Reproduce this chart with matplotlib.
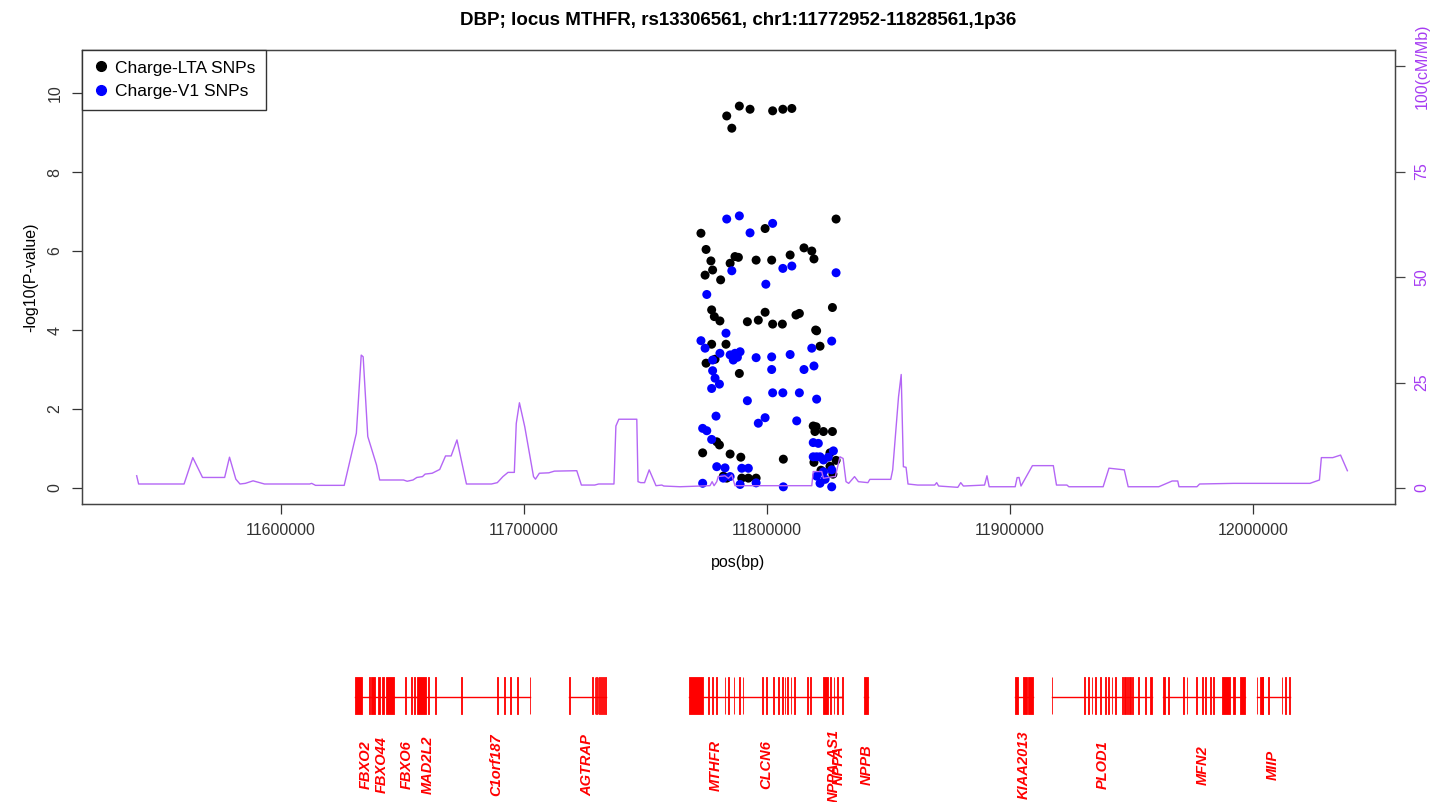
import matplotlib
matplotlib.use("Agg")
import matplotlib.pyplot as plt
from matplotlib.lines import Line2D

plt.rcParams["font.family"] = ["Liberation Sans", "DejaVu Sans"]

TITLE = "DBP; locus MTHFR, rs13306561, chr1:11772952-11828561,1p36"

# Charge-LTA SNPs (black)
LTA_POS = [11783400, 11785500, 11788600, 11793000, 11802300, 11806500, 11810200,
           11828400, 11772800, 11799200, 11774900, 11776900, 11786800, 11788200,
           11784800, 11795500, 11801900, 11809500, 11815200, 11818400, 11819300,
           11777600, 11774500, 11780900, 11777200, 11778300, 11780600, 11791900,
           11796400, 11799200, 11802300, 11806300, 11811900, 11813300, 11826900,
           11820000, 11820400, 11821800, 11777200, 11783100, 11774900, 11778600,
           11788600, 11819000, 11820200, 11819700, 11823200, 11826900, 11779300,
           11780400, 11773500, 11784800, 11789200, 11806700, 11825900, 11782000,
           11783400, 11789600, 11792300, 11795500, 11819300, 11822200, 11825900,
           11827100, 11828400]
LTA_LOGP = [9.42, 9.11, 9.67, 9.59, 9.55, 9.59, 9.61,
            6.81, 6.45, 6.57, 6.04, 5.75, 5.86, 5.84,
            5.69, 5.77, 5.77, 5.90, 6.08, 6.00, 5.80,
            5.52, 5.39, 5.27, 4.51, 4.34, 4.23, 4.21,
            4.25, 4.45, 4.15, 4.15, 4.38, 4.42, 4.57,
            4.00, 3.98, 3.59, 3.64, 3.64, 3.16, 3.26,
            2.90, 1.57, 1.55, 1.43, 1.43, 1.43, 1.17,
            1.09, 0.89, 0.86, 0.78, 0.73, 0.89, 0.30,
            0.25, 0.25, 0.25, 0.25, 0.65, 0.45, 0.55,
            0.35, 0.70]

# Charge-V1 SNPs (blue)
V1_POS = [11783400, 11788600, 11802300, 11793000, 11785500, 11806500, 11810200,
          11828400, 11799500, 11775200, 11783100, 11772800, 11774500, 11826600,
          11818400, 11780600, 11784800, 11786100, 11786800, 11788900, 11787800,
          11777600, 11795500, 11801900, 11809500, 11819300, 11815200, 11801900,
          11777600, 11778600, 11780400, 11777200, 11802300, 11806500, 11813300,
          11820400, 11791900, 11779000, 11799200, 11796400, 11812200, 11773500,
          11775200, 11777200, 11819000, 11821100, 11827300, 11819000, 11820400,
          11821800, 11823200, 11825200, 11779300, 11782700, 11789600, 11792300,
          11782000, 11784800, 11773500, 11788900, 11795500, 11806700, 11820400,
          11823200, 11826600, 11821800, 11826600, 11823900]
V1_LOGP = [6.81, 6.89, 6.70, 6.46, 5.50, 5.56, 5.62,
           5.45, 5.16, 4.90, 3.92, 3.73, 3.54, 3.72,
           3.54, 3.41, 3.37, 3.24, 3.41, 3.45, 3.31,
           3.24, 3.30, 3.32, 3.38, 3.09, 3.00, 3.00,
           2.97, 2.78, 2.63, 2.52, 2.41, 2.41, 2.41,
           2.25, 2.21, 1.82, 1.78, 1.64, 1.70, 1.51,
           1.45, 1.23, 1.15, 1.13, 0.94, 0.79, 0.79,
           0.79, 0.71, 0.78, 0.54, 0.51, 0.50, 0.50,
           0.25, 0.29, 0.12, 0.09, 0.13, 0.03, 0.30,
           0.41, 0.46, 0.12, 0.03, 0.22]

# recombination rate (cM/Mb)
REC_POS = [11540600, 11541400, 11560100, 11563700, 11567700, 11576800, 11578800,
           11581400, 11583100, 11585300, 11588500, 11593200, 11611800, 11612600,
           11614200, 11626000, 11631000, 11633000, 11633800, 11635700, 11639300,
           11640600, 11650400, 11651900, 11654300, 11655900, 11658200, 11659300,
           11662200, 11665300, 11667700, 11670000, 11672400, 11676300, 11686600,
           11689000, 11691300, 11693400, 11696000, 11696800, 11698100, 11700300,
           11703900, 11704700, 11706300, 11710200, 11712500, 11721700, 11723600,
           11729100, 11730700, 11737000, 11737800, 11739000, 11746400, 11746900,
           11748000, 11749600, 11751500, 11754300, 11756700, 11757500, 11764200,
           11776500, 11777400, 11778200, 11779300, 11779900, 11782700, 11784100,
           11785500, 11786100, 11786800, 11818400, 11819000, 11822500, 11823200,
           11827300, 11828100, 11830000, 11831300, 11832500, 11833600, 11836000,
           11837600, 11841500, 11842300, 11850900, 11851700, 11854100, 11855200,
           11856100, 11857200, 11858000, 11862000, 11869000, 11869800, 11870600,
           11878500, 11879700, 11880800, 11889500, 11890500, 11891400, 11902100,
           11902900, 11903700, 11904500, 11909200, 11917800, 11919100, 11923400,
           11924200, 11938300, 11940700, 11947000, 11948600, 11961200, 11966700,
           11969000, 11969500, 11976900, 11978000, 11991900, 12023400, 12027300,
           12028100, 12032800, 12036000, 12038800]
REC_RATE = [2.9, 0.95, 0.95, 7.2, 2.5, 2.5, 7.3,
            2.1, 0.95, 1.1, 1.7, 0.95, 0.95, 1.1,
            0.63, 0.63, 13.0, 31.5, 31.1, 12.2, 5.45,
            1.9, 1.9, 1.6, 1.9, 2.5, 2.7, 3.3,
            3.5, 4.4, 7.6, 7.6, 11.4, 0.95, 0.95,
            1.27, 2.7, 3.7, 3.7, 15.3, 20.2, 14.5,
            2.7, 2.1, 3.5, 3.6, 4.0, 4.1, 0.7,
            0.7, 0.95, 0.95, 14.7, 16.3, 16.3, 1.5,
            1.27, 1.27, 4.3, 0.55, 0.7, 0.47, 0.3,
            0.55, 1.5, 0.55, 1.5, 2.7, 2.9, 2.3,
            3.1, 1.9, 0.55, 0.55, 3.9, 3.9, 2.3,
            2.7, 2.7, 7.4, 7.0, 1.5, 1.1, 2.7,
            1.5, 1.27, 2.05, 2.05, 4.3, 21.6, 26.9,
            5.05, 4.9, 0.95, 0.7, 0.7, 1.27, 0.47,
            0.16, 1.27, 0.47, 0.7, 2.9, 0.3, 0.3,
            2.45, 2.5, 0.47, 5.3, 5.3, 0.7, 0.7,
            0.3, 0.3, 4.7, 4.3, 0.3, 0.3, 1.66,
            1.66, 0.3, 0.3, 0.95, 1.1, 1.1, 1.9,
            7.2, 7.2, 7.8, 4.1]

# genes: name, transcript span and label position
GENE_NAMES = ["FBXO2", "FBXO44", "FBXO6", "MAD2L2", "C1orf187", "AGTRAP",
              "MTHFR", "CLCN6", "NPPA-AS1", "NPPA", "NPPB",
              "KIAA2013", "PLOD1", "MFN2", "MIIP"]
GENE_START = [11630450, 11636400, 11646400, 11655700, 11674200, 11718600,
              11767850, 11789900, 11817800, 11827400, 11839800,
              11902000, 11917100, 11962800, 12001500]
GENE_END = [11636500, 11646400, 11655700, 11674200, 11702500, 11733700,
            11789900, 11817800, 11831000, 11831000, 11841400,
            11909600, 11958300, 11996700, 12015200]
GENE_LABEL_POS = [11634980, 11641560, 11651850, 11660490, 11688470, 11725920,
                  11779000, 11799580, 11827560, 11829620, 11841140,
                  11905750, 11938250, 11979400, 12008210]

# exons
EXON_START = [11630450, 11636300, 11637000, 11640000, 11641500, 11643400,
              11651000, 11653600, 11654700, 11655900, 11660500, 11663200,
              11674200, 11688900, 11691700, 11694400, 11697300, 11702300,
              11718600, 11728100, 11729000, 11729600, 11730300, 11731000,
              11731800, 11732500, 11733400,
              11767850, 11775900, 11777400, 11778900, 11782500, 11784000,
              11786200, 11788400, 11789900,
              11798000, 11799500, 11802400, 11804600, 11806100, 11807200,
              11808300, 11809700, 11811200, 11816400, 11817800,
              11823000, 11826000, 11827400, 11828800, 11831000, 11839800,
              11902000, 11905400, 11907500,
              11917100, 11930400, 11932200, 11933600, 11935000, 11937000,
              11939100, 11940400, 11941800, 11943200, 11945900, 11947000,
              11948000, 11949000, 11950200, 11952800, 11955500, 11957600,
              11962800, 11965100, 11971300, 11972700, 11976500, 11978900,
              11980200, 11982300, 11983500, 11987100, 11991900, 11994500,
              12001500, 12002900, 12003800, 12006300, 12011800, 12013200,
              12014600]
EXON_END = [11633330, 11636600, 11638500, 11640700, 11642200, 11646300,
            11651300, 11653900, 11655000, 11659500, 11660800, 11663900,
            11674500, 11689200, 11692000, 11694700, 11697600, 11702600,
            11718900, 11728400, 11729300, 11729900, 11730600, 11731300,
            11732100, 11732800, 11733700,
            11773700, 11776200, 11777700, 11779200, 11782800, 11784300,
            11786500, 11788700, 11790200,
            11798300, 11799800, 11802700, 11804900, 11806400, 11807500,
            11808600, 11810000, 11811500, 11816700, 11818100,
            11825200, 11826300, 11827700, 11829100, 11831300, 11841400,
            11903400, 11906900, 11909600,
            11917400, 11931000, 11932500, 11933900, 11935300, 11937300,
            11939400, 11940700, 11942100, 11943500, 11946600, 11947600,
            11948600, 11949700, 11950700, 11953100, 11955800, 11958300,
            11963800, 11965400, 11971600, 11973000, 11976800, 11979200,
            11980500, 11982600, 11983800, 11990500, 11992600, 11996700,
            12001800, 12004200, 12004100, 12006600, 12012100, 12013500,
            12015200]

XLIM = (11518100, 12058400)

fig = plt.figure(figsize=(14.38, 8.02), dpi=100)

ax = fig.add_axes([82 / 1438, 1 - 504 / 802, 1313 / 1438, 454 / 802])
ax.scatter(LTA_POS, LTA_LOGP, s=42, c="black", edgecolors="none", zorder=3)
ax.scatter(V1_POS, V1_LOGP, s=42, c="#0000FF", edgecolors="none", zorder=3)
ax.set_xlim(*XLIM)
ax.set_ylim(-0.405, 11.09)
ax.set_xticks([11600000, 11700000, 11800000, 11900000, 12000000])
ax.set_xticklabels(["11600000", "11700000", "11800000", "11900000", "12000000"])
ax.set_yticks([0, 2, 4, 6, 8, 10])
ax.tick_params(direction="out", length=7, width=0.9, labelsize=11.5, colors="#333333")
ax.tick_params(axis="x", pad=7)
ax.tick_params(axis="y", pad=7)
for lab in ax.get_yticklabels():
    lab.set_rotation(90)
    lab.set_va("center")
ax.set_xlabel("pos(bp)", fontsize=11.5, labelpad=12)
ax.set_ylabel("-log10(P-value)", fontsize=11.5, labelpad=7)
ax.set_title(TITLE, fontsize=13.5, fontweight="bold", pad=18)
for sp in ax.spines.values():
    sp.set_color("#444444")
    sp.set_linewidth(1.0)

ax2 = ax.twinx()
ax2.plot(REC_POS, REC_RATE, color="#B466F5", linewidth=1.0)
ax2.set_ylim(-3.79, 103.8)
ax2.set_yticks([0, 25, 50, 75, 100])
ax2.set_yticklabels(["0", "25", "50", "75", "100(cM/Mb)"])
ax2.tick_params(direction="out", length=7, width=0.9, labelsize=11.5,
                colors="#444444", labelcolor="#A63CF2", pad=7)
for lab in ax2.get_yticklabels():
    lab.set_rotation(90)
    lab.set_va("center")
for sp in ax2.spines.values():
    sp.set_color("#444444")

handles = [Line2D([], [], marker="o", linestyle="none", color="black", markersize=7),
           Line2D([], [], marker="o", linestyle="none", color="#0000FF", markersize=7)]
leg = ax2.legend(handles, ["Charge-LTA SNPs", "Charge-V1 SNPs"], loc="upper left",
                 borderaxespad=0, fancybox=False, framealpha=1, edgecolor="#333333",
                 fontsize=12.5, handletextpad=0.3, handlelength=1.0,
                 borderpad=0.6, labelspacing=0.5)
leg.get_frame().set_linewidth(1.0)

# gene track
gax = fig.add_axes([82 / 1438, 0, 1313 / 1438, 142 / 802])
gax.set_xlim(*XLIM)
gax.set_ylim(0, 142)
gax.axis("off")
for start, end in zip(GENE_START, GENE_END):
    gax.plot([start, end], [105, 105], color="#FF0000", linewidth=1.0)
gax.broken_barh([(s, e - s) for s, e in zip(EXON_START, EXON_END)], (88, 37),
                facecolors="#FF0000", edgecolors="#FF0000", linewidth=0.6)
for name, pos in zip(GENE_NAMES, GENE_LABEL_POS):
    gax.text(pos, 37, name, rotation=90, ha="center", va="center", color="#FF0000",
             fontsize=10.5, fontweight="bold", fontstyle="italic")

fig.savefig("out.png", dpi=100)
